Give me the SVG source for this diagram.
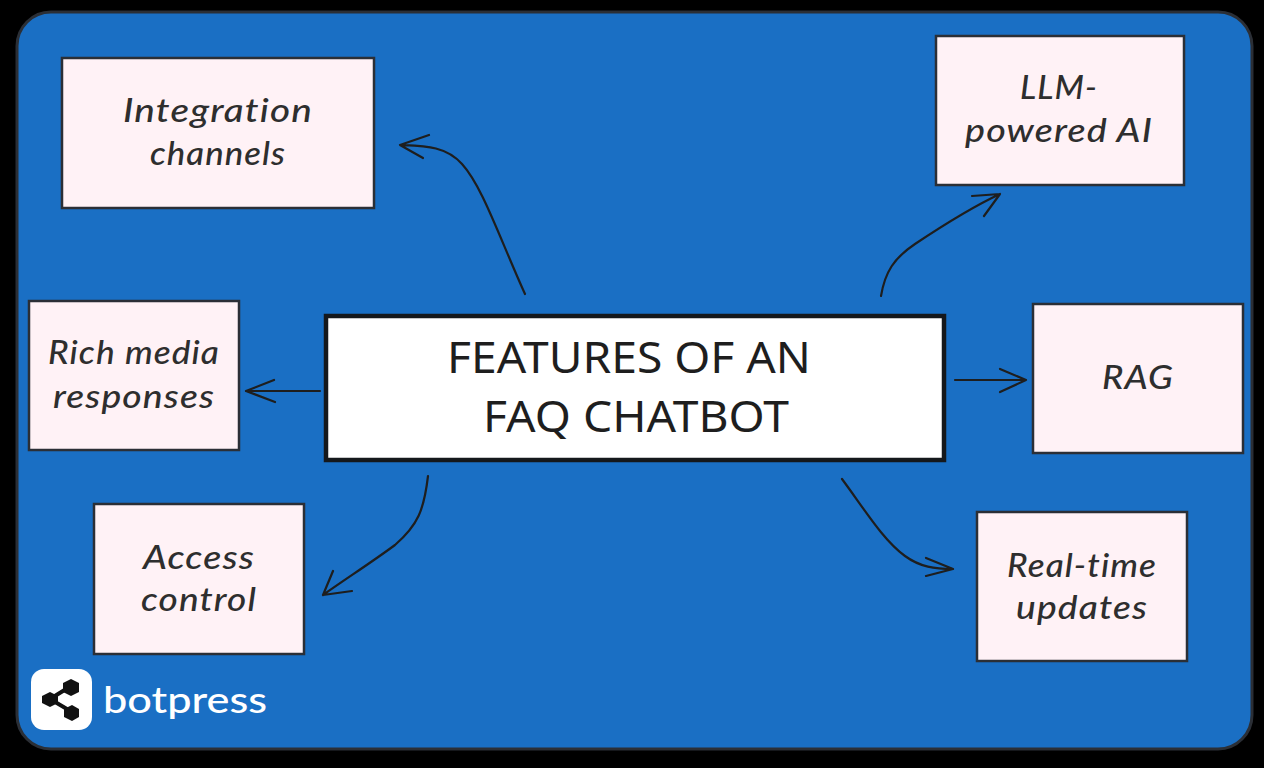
<svg xmlns="http://www.w3.org/2000/svg" width="1264" height="768" viewBox="0 0 1264 768">
<style>
.n{fill:#fff2f6;stroke:#2b2f36;stroke-width:2.5}
.t{font-family:"Lato","Noto Sans",sans-serif;font-size:33px;font-weight:500;fill:#2e2e2e;text-anchor:middle;font-style:italic;letter-spacing:1px}
.c{fill:none;stroke:#1e1e1e;stroke-width:2.2;stroke-linecap:round;stroke-linejoin:round}
.m{font-family:"Noto Sans","Lato",sans-serif;font-size:44px;fill:#1e1e1e;text-anchor:middle}
</style>
<rect width="1264" height="768" fill="#000"/>
<rect x="17" y="12" width="1235" height="737" rx="34" fill="#1a6fc4" stroke="#2b2f36" stroke-width="3"/>
<g id="connectors">
<path class="c" d="M525 294C498 234 482 186 462 164C446 146 425 146 401 145M429 135L400 145L423 158"/>
<path class="c" d="M881 296C885 272 894 258 915 244C942 226 970 208 1000 194M972 196L1000 194L984 216"/>
<path class="c" d="M320 391H246M274 380L246 391L275 402"/>
<path class="c" d="M955 380H1026M1000 369L1026 380L1000 392"/>
<path class="c" d="M428 476C424 510 418 525 395 545C372 562 347 578 323 595M333 571L323 595L352 591"/>
<path class="c" d="M842 479C865 510 883 540 905 556C920 567 935 569 953 569M926 558L953 569L926 576"/>
</g>
<g id="node-main">
<rect x="326" y="316" width="618" height="144" fill="#fff" stroke="#15181c" stroke-width="4.5"/>
<text class="m" x="629" y="373" textLength="364" lengthAdjust="spacingAndGlyphs">FEATURES OF AN</text>
<text class="m" x="636" y="432" textLength="306" lengthAdjust="spacingAndGlyphs">FAQ CHATBOT</text>
</g>
<g id="node-integration">
<rect class="n" x="62" y="58" width="312" height="150"/>
<text class="t" x="218" y="122" textLength="190" lengthAdjust="spacingAndGlyphs">Integration</text>
<text class="t" x="218" y="165" textLength="136" lengthAdjust="spacingAndGlyphs">channels</text>
</g>
<g id="node-llm">
<rect class="n" x="936" y="36" width="248" height="149"/>
<text class="t" x="1059" y="99" textLength="78" lengthAdjust="spacingAndGlyphs">LLM-</text>
<text class="t" x="1059" y="142" textLength="188" lengthAdjust="spacingAndGlyphs">powered AI</text>
</g>
<g id="node-rich">
<rect class="n" x="29" y="301" width="210" height="149"/>
<text class="t" x="134" y="364" textLength="172" lengthAdjust="spacingAndGlyphs">Rich media</text>
<text class="t" x="134" y="408" textLength="162" lengthAdjust="spacingAndGlyphs">responses</text>
</g>
<g id="node-rag">
<rect class="n" x="1033" y="304" width="210" height="149"/>
<text class="t" x="1138" y="389" textLength="72" lengthAdjust="spacingAndGlyphs">RAG</text>
</g>
<g id="node-access">
<rect class="n" x="94" y="504" width="210" height="150"/>
<text class="t" x="199" y="569" textLength="112" lengthAdjust="spacingAndGlyphs">Access</text>
<text class="t" x="199" y="611" textLength="116" lengthAdjust="spacingAndGlyphs">control</text>
</g>
<g id="node-realtime">
<rect class="n" x="977" y="512" width="210" height="149"/>
<text class="t" x="1082" y="577" textLength="150" lengthAdjust="spacingAndGlyphs">Real-time</text>
<text class="t" x="1082" y="619" textLength="132" lengthAdjust="spacingAndGlyphs">updates</text>
</g>
<g id="logo">
<rect x="31" y="669" width="61" height="61" rx="13" fill="#fff"/>
<path d="M71 686L50 699L72 712" fill="none" stroke="#111" stroke-width="4"/>
<path d="M71 679L79 683V692L71 696L63 692V683Z M50 692L58 696V703L50 707L42 703V696Z M72 705L79 709V717L72 721L64 717V709Z" fill="#111"/>
<text x="103" y="713" font-family="Lato,'Noto Sans',sans-serif" font-size="37" font-weight="500" fill="#fff" textLength="164" lengthAdjust="spacingAndGlyphs">botpress</text>
</g>
</svg>
